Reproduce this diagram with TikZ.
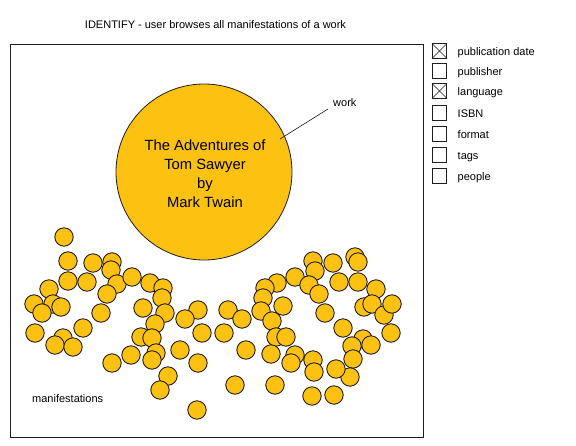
\documentclass[tikz,border=0pt]{standalone}
\usepackage{fontspec}
\setmainfont{Liberation Sans}
\definecolor{gold}{RGB}{253,193,17}
\definecolor{edge}{RGB}{30,30,30}
\begin{document}
\begin{tikzpicture}[x=1pt,y=-1pt,
  lbl/.style={inner sep=0pt,font=\fontsize{11}{13}\selectfont},
  mcirc/.style={circle,draw=edge,line width=0.9pt,fill=gold,minimum size=18.4pt,inner sep=0pt},
  bigcirc/.style={circle,draw=edge,line width=0.8pt,fill=gold,minimum size=176pt,inner sep=0pt},
  cbox/.style={draw=edge,line width=0.7pt,minimum size=14.5pt,inner sep=0pt},
  frame/.style={draw=edge,line width=0.8pt}]
\useasboundingbox (0,0) rectangle (576,445);
\node[lbl,anchor=base] (title) at (215.5,28) {IDENTIFY - user browses all manifestations of a work};
\draw[frame] (10,44) rectangle (423,437);
\node[bigcirc] (work) at (204,172) {};
\node[align=center,inner sep=0pt,font=\fontsize{14.8}{19}\selectfont] (worktext) at (205,174)
  {The Adventures of\\Tom Sawyer\\by\\Mark Twain};
\node[lbl,anchor=base west] (worklbl) at (333,106) {work};
\coordinate (wa) at (328,109);
\coordinate (wb) at (280,139);
\draw[edge,line width=0.6pt] (wa) -- (wb);
\node[lbl,anchor=base west] (manlbl) at (32,402) {manifestations};
% manifestations
\foreach \x/\y [count=\i] in {
 64/237, 68/261, 93/263, 112/262, 111/270, 68/281, 87/282, 49/289, 117/284, 107/294,
 34/304, 53/304, 61/307, 42/313, 101/313, 83/328, 35/333, 63/338, 55/345, 73/347, 112/363,
 132/277, 150/283, 163/288, 162/298, 143/308, 165/313, 155/324, 198/310, 185/319, 202/333,
 141/337, 152/338, 131/355, 180/350, 156/353, 152/360, 198/363, 168/376, 160/390, 197/410,
 228/310, 242/319, 224/333, 246/350, 235/385, 275/385,
 295/277, 277/283, 265/288, 263/298, 283/306, 261/311, 272/321, 276/337, 286/337, 271/354, 295/355, 291/363,
 313/261, 315/271, 333/263, 355/257, 358/262, 309/285, 319/294, 339/282, 358/282, 376/289,
 325/313, 364/307, 372/304, 384/315, 392/304, 343/328, 363/339, 352/346, 371/345, 391/333,
 353/359, 350/377, 336/369, 313/360, 314/372, 312/396, 334/395}
 \node[mcirc] (m\i) at (\x,\y) {};
% checkboxes
\foreach \y/\t/\c [count=\i] in {51/publication date/1, 71/publisher/0, 91/language/1, 113/ISBN/0, 134/format/0, 155/tags/0, 176/people/0}{
  \node[cbox] (cb\i) at (439.5,\y) {};
  \ifnum\c=1
    \draw[edge,line width=0.6pt] (cb\i.north west) -- (cb\i.south east) (cb\i.north east) -- (cb\i.south west);
  \fi
  \node[lbl,anchor=base west] (cl\i) at (457.5,\y+4) {\t};
}
\end{tikzpicture}
\end{document}
